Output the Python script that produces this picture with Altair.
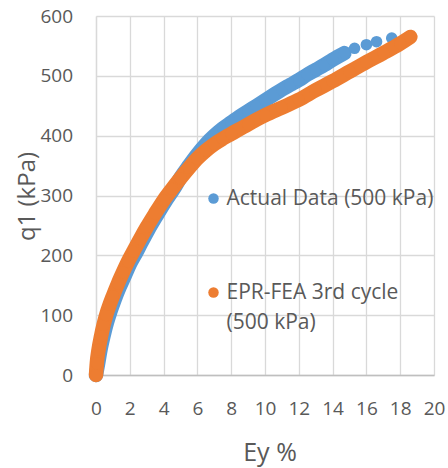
import altair as alt
import pandas as pd

# ---- data ----
series_names = ["Actual Data (500 kPa)", "EPR-FEA 3rd cycle (500 kPa)"]
series_colors = ["#5B9BD5", "#ED7D31"]

actual_ey = [0, 0.1, 0.25, 0.45, 0.65, 0.85, 1.1, 1.4, 1.7, 2.0, 2.35, 2.7, 3.1,
             3.6, 4.1, 4.6, 5.0, 5.5, 6.0, 6.5, 7.0, 7.5, 8.0, 8.5, 9.0, 9.5,
             10.0, 10.5, 11.0, 11.5, 12.0, 12.5, 13.0, 13.5, 14.0, 14.7, 15.3,
             16.0, 16.6, 17.5, 18.6]
actual_q = [0, 15, 40, 66, 88, 106, 126, 147, 166, 185, 203, 222, 243,
            267, 290, 311, 330, 350, 369, 386, 400, 412, 422, 432, 441, 450,
            459, 468, 477, 485, 493, 502, 510, 518, 527, 538, 546,
            552, 557, 563, 566]

fea_ey = [0, 0.05, 0.15, 0.3, 0.45, 0.6, 0.8, 1.0, 1.3, 1.6, 1.9, 2.2, 2.6,
          3.0, 3.5, 4.0, 4.5, 5.0, 5.5, 6.0, 6.5, 7.0, 7.5, 8.0, 9.0, 10.0,
          11.0, 12.0, 13.0, 14.0, 15.0, 16.0, 17.0, 18.0, 18.6]
fea_q = [0, 20, 42, 65, 84, 100, 117, 132, 153, 172, 190, 206, 227,
         247, 270, 292, 311, 329, 346, 362, 375, 386, 395, 403, 419, 434,
         447, 460, 476, 491, 507, 523, 538, 554, 565]

x_ticks = [0, 2, 4, 6, 8, 10, 12, 14, 16, 18, 20]
y_ticks = [0, 100, 200, 300, 400, 500, 600]

df = pd.concat([
    pd.DataFrame({"Ey": actual_ey, "q": actual_q, "series": series_names[0]}),
    pd.DataFrame({"Ey": fea_ey, "q": fea_q, "series": series_names[1]}),
], ignore_index=True)

FONT = "Open Sans"
TXT = "#595959"
GRID = "#d9d9d9"

x_enc = alt.X(
    "Ey:Q",
    scale=alt.Scale(domain=[0, 20], nice=False, zero=False),
    axis=alt.Axis(
        values=x_ticks, title="Ey %", grid=True, gridColor=GRID, gridWidth=1.3,
        domainColor="#bfbfbf", domainWidth=1.3, ticks=False, tickSize=0,
        labelPadding=24, labelFont=FONT, labelFontSize=19, labelColor=TXT,
        labelFlush=False, labelOverlap=False,
        titleFont=FONT, titleFontSize=25, titleColor=TXT, titleFontWeight="normal",
        titleX=173.5, titleY=85, titleBaseline="alphabetic", titleAlign="center",
    ),
)
y_enc = alt.Y(
    "q:Q",
    scale=alt.Scale(domain=[0, 600], nice=False),
    axis=alt.Axis(
        values=y_ticks, title="q1 (kPa)", grid=True, gridColor=GRID, gridWidth=1.3,
        domainColor=GRID, domainWidth=1.3, ticks=False, tickSize=0,
        labelPadding=23.5, labelFont=FONT, labelFontSize=19, labelColor=TXT,
        labelFlush=False, labelOverlap=False,
        titleFont=FONT, titleFontSize=24, titleColor=TXT, titleFontWeight="normal",
        titleX=-61.5, titleY=180, titleAngle=270, titleBaseline="alphabetic",
        titleAlign="center",
    ),
)
color_enc = alt.Color(
    "series:N",
    scale=alt.Scale(domain=series_names, range=series_colors),
    legend=alt.Legend(
        title=None, orient="none", legendX=107, legendY=172, padding=0,
        symbolType="circle", symbolSize=110, symbolStrokeWidth=0, symbolOpacity=1,
        labelFont=FONT, labelFontSize=21, labelColor=TXT, labelOffset=2.5,
        labelLimit=400, rowPadding=72,
        labelExpr="datum.label == 'EPR-FEA 3rd cycle (500 kPa)' ? ['EPR-FEA 3rd cycle', '(500 kPa)'] : datum.label",
    ),
)

base = alt.Chart(df)
line_style = dict(strokeWidth=14.5, strokeCap="round", strokeJoin="round", interpolate="monotone")

blue_line = base.transform_filter(
    (alt.datum.series == series_names[0]) & (alt.datum.Ey <= 14.7)
).mark_line(color=series_colors[0], **line_style).encode(x=x_enc, y=y_enc)

blue_pts = base.transform_filter(
    alt.datum.series == series_names[0]
).mark_circle(size=135, opacity=1).encode(x=x_enc, y=y_enc, color=color_enc)

orange_line = base.transform_filter(
    alt.datum.series == series_names[1]
).mark_line(color=series_colors[1], **line_style).encode(x=x_enc, y=y_enc)

orange_pts = base.transform_filter(
    alt.datum.series == series_names[1]
).mark_circle(size=150, opacity=1).encode(x=x_enc, y=y_enc, color=color_enc)

chart = alt.layer(blue_line, blue_pts, orange_line, orange_pts).properties(
    width=338, height=359,
    autosize=alt.AutoSizeParams(type="none"),
    padding={"left": 96, "top": 16, "right": 14, "bottom": 93},
    background="white",
).configure(
    style={"guide-label": {"lineHeight": 30}}
).configure_view(strokeWidth=0)

chart.save("out.html", embed_options={"renderer": "svg", "actions": False})
